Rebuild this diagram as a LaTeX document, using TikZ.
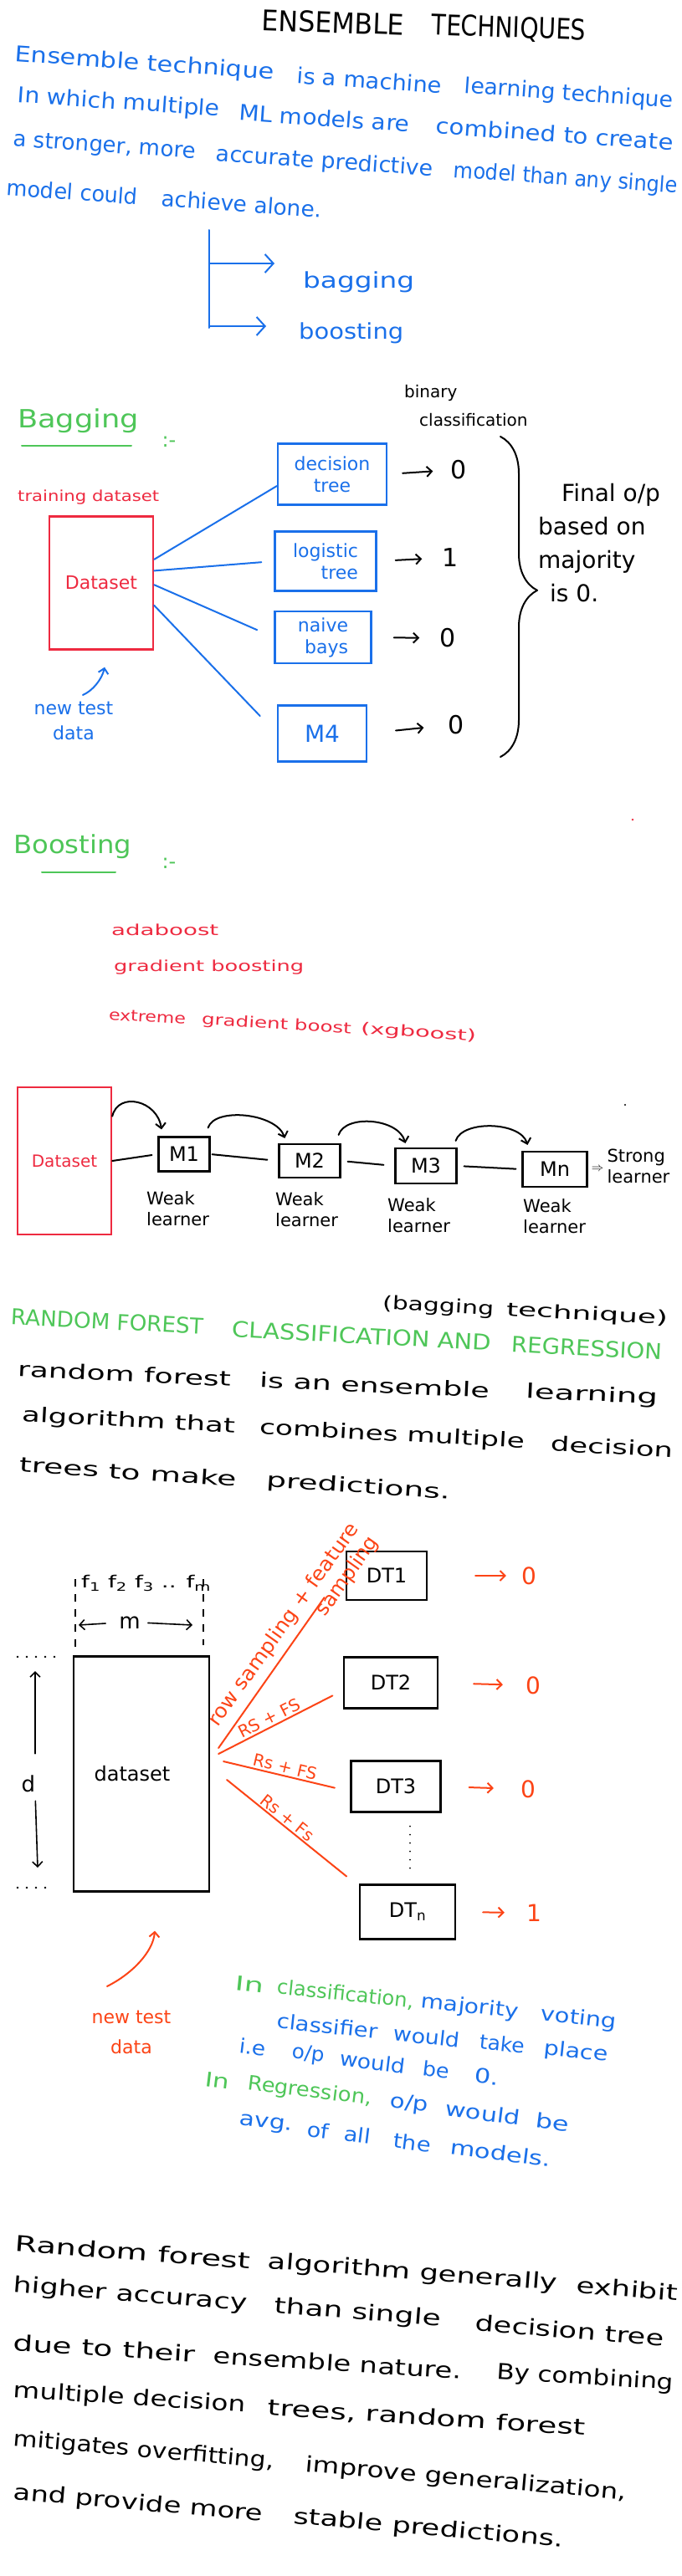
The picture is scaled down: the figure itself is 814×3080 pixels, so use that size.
\documentclass[tikz,border=0pt]{standalone}
\usepackage{fontspec}
\setmainfont{DejaVu Sans}
\usepackage{graphicx}
\usetikzlibrary{arrows.meta, positioning, decorations.pathreplacing}

\definecolor{penblue}{RGB}{26,112,234}
\definecolor{pengreen}{RGB}{78,198,88}
\definecolor{penred}{RGB}{238,42,64}
\definecolor{penorange}{RGB}{252,68,22}

% stretch one handwritten word group to the width it has on the page
\newcommand{\fitline}[2]{\resizebox{#1}{\height}{#2}}

\begin{document}
\begin{tikzpicture}[x=1pt, y=-1pt]
    \tikzstyle{hand} = [anchor=west, inner sep=0pt]
    \tikzstyle{pen} = [line width=2pt, line cap=round, line join=round]
    \tikzstyle{bigbarb} = [-{Straight Barb[length=10pt, width=22pt]}]
    \tikzstyle{barb} = [-{Straight Barb[length=6pt, width=12pt]}]
    \tikzstyle{bluebox} = [rectangle, draw=penblue, line width=2.4pt, inner sep=0pt, text=penblue, align=center, font=\fontsize{22}{26}\selectfont]
    \tikzstyle{redbox} = [rectangle, draw=penred, line width=2.4pt, inner sep=0pt, text=penred]
    \tikzstyle{blackbox} = [rectangle, draw, line width=2.2pt, inner sep=0pt, font=\fontsize{24}{28}\selectfont]
    \tikzstyle{intro} = [hand, text=penblue, font=\fontsize{26}{30}\selectfont, rotate=-4]
    \tikzstyle{heading} = [hand, text=pengreen, font=\fontsize{30}{34}\selectfont]
    \tikzstyle{algo} = [hand, text=penred, font=\fontsize{18}{22}\selectfont]
    \tikzstyle{weak} = [anchor=north west, align=left, inner sep=0pt, font=\fontsize{21}{25}\selectfont]
    \tikzstyle{rfpara} = [hand, font=\fontsize{24}{28}\selectfont]
    \tikzstyle{note} = [hand, text=penblue, font=\fontsize{24}{28}\selectfont, rotate=-6]
    \tikzstyle{notesteep} = [note, rotate=-1]
    \tikzstyle{closing} = [hand, font=\fontsize{26}{30}\selectfont]
    \tikzstyle{digit} = [inner sep=0pt, font=\fontsize{30}{34}\selectfont]
    \tikzstyle{rsfs} = [sloped, above, inner sep=2pt, text=penorange, font=\fontsize{20}{24}\selectfont]
    \tikzstyle{rowdots} = [line width=2.6pt, line cap=round, dash pattern=on 0pt off 11pt]
    \tikzstyle{featguide} = [line width=1.5pt, dash pattern=on 9pt off 9pt]

    \fill[white] (0,0) rectangle (814,3080);
    \useasboundingbox (0,0) rectangle (814,3080);

    % title and definition
    \node[hand, font=\fontsize{34}{38}\selectfont, rotate=-2] (title1) at (313,24) {\fitline{170pt}{ENSEMBLE}};
    \node[hand, font=\fontsize{34}{38}\selectfont, rotate=-2] (title2) at (516,31) {\fitline{184pt}{TECHNIQUES}};

    \node[intro] (intro1a) at (18,66) {\fitline{310pt}{Ensemble technique}};
    \node[intro] (intro1b) at (355,90) {\fitline{173pt}{is a machine}};
    \node[intro] (intro1c) at (555,104) {\fitline{250pt}{learning technique}};
    \node[intro] (intro2a) at (21,115) {\fitline{242pt}{In which multiple}};
    \node[intro] (intro2b) at (286,134) {\fitline{204pt}{ML models are}};
    \node[intro] (intro2c) at (521,150) {\fitline{284pt}{combined to create}};
    \node[intro] (intro3a) at (16,168) {\fitline{218pt}{a stronger, more}};
    \node[intro] (intro3b) at (258,185) {\fitline{260pt}{accurate predictive}};
    \node[intro] (intro3c) at (542,205) {\fitline{268pt}{model than any single}};
    \node[intro] (intro4a) at (8,224) {\fitline{157pt}{model could}};
    \node[intro] (intro4b) at (193,237) {\fitline{192pt}{achieve alone.}};

    \node[hand, text=penblue, font=\fontsize{26}{30}\selectfont] (bagging) at (362,337) {\fitline{133pt}{bagging}};
    \node[hand, text=penblue, font=\fontsize{26}{30}\selectfont] (boosting) at (357,398) {\fitline{125pt}{boosting}};
    \coordinate (splittop) at (250,275);
    \coordinate (splitbot) at (250,392);
    \coordinate (bagarrow) at (250,315);
    \coordinate (boostarrow) at (250,390);
    \draw[pen, penblue] (splittop) -- (splitbot);
    \draw[pen, penblue, bigbarb, shorten >=34pt] (bagarrow) -- ([yshift=22pt]bagging.west);
    \draw[pen, penblue, bigbarb, shorten >=39pt] (boostarrow) -- ([yshift=8pt]boosting.west);

    % bagging
    \node[heading] (baghead) at (21,503) {\fitline{145pt}{Bagging}};
    \node[inner sep=0pt, text=pengreen, font=\fontsize{24}{28}\selectfont] (bagcolon) at (202,528) {:-};
    \draw[pen, pengreen] (26,533) -- (157,533);

    \node[algo] (trainset) at (21,595) {\fitline{169pt}{training dataset}};
    \node[redbox, minimum width=124pt, minimum height=159pt, font=\fontsize{22}{26}\selectfont] (dset) at (121,697) {Dataset};
    \node[inner sep=0pt, align=center, text=penblue, font=\fontsize{22}{30}\selectfont] (newdata) at (88,862) {new test\\data};
    \draw[pen, penblue, barb] ([xshift=11pt,yshift=8pt]newdata.north) .. controls +(12,-5) and +(-3,14) .. ([xshift=4pt,yshift=-20pt]dset.south);

    \node[bluebox, minimum width=130pt, minimum height=73pt] (dtree) at (397,567) {decision\\tree};
    \node[bluebox, minimum width=121pt, minimum height=71pt, align=right] (logtree) at (389,671) {logistic\\tree};
    \node[bluebox, minimum width=115pt, minimum height=62pt, align=right] (nbays) at (386,762) {naive\\bays};
    \node[bluebox, minimum width=106pt, minimum height=67pt, font=\fontsize{28}{32}\selectfont] (mfour) at (385,877) {M4};

    \draw[pen, penblue] (dset.24) -- (dtree.192);
    \draw[pen, penblue, shorten >=15pt] (dset.13) -- (logtree.west);
    \draw[pen, penblue, shorten >=22pt] (dset.-2) -- (nbays.west);
    \draw[pen, penblue, shorten >=29pt] (dset.-23) -- (mfour.west);

    \node[digit] (out1) at (548,562) {0};
    \node[digit] (out2) at (538,667) {1};
    \node[digit] (out3) at (535,763) {0};
    \node[digit] (out4) at (545,867) {0};
    \draw[pen, barb, shorten <=18pt, shorten >=21pt] (dtree.east) -- (out1.west);
    \draw[pen, barb, shorten <=22pt, shorten >=24pt] (logtree.east) -- (out2.west);
    \draw[pen, barb, shorten <=26pt, shorten >=24pt] (nbays.east) -- (out3.west);
    \draw[pen, barb, shorten <=34pt, shorten >=29pt] (mfour.east) -- (out4.west);

    \node[anchor=north west, align=left, inner sep=0pt, font=\fontsize{20}{34}\selectfont] (binary) at (483,460) {binary\\\hspace*{0.9em}classification};
    \coordinate (bracetop) at (598,522);
    \coordinate (bracebot) at (598,905);
    \draw[pen, decorate, decoration={brace, amplitude=44pt, aspect=0.48}] (bracetop) -- (bracebot);
    \node[anchor=north west, align=left, inner sep=0pt, font=\fontsize{28}{40}\selectfont] (finalop) at (643,578) {\hspace*{1em}Final o/p\\based on\\majority\\\hspace*{0.5em}is 0.};

    % boosting
    \node[heading] (boosthead) at (16,1012) {\fitline{141pt}{Boosting}};
    \node[inner sep=0pt, text=pengreen, font=\fontsize{24}{28}\selectfont] (boostcolon) at (202,1032) {:-};
    \draw[pen, pengreen] (50,1043) -- (138,1043);
    \fill[penred] (756,980) circle (1.3pt);

    \node[algo] (adaboost) at (133,1112) {\fitline{128pt}{adaboost}};
    \node[algo] (gradboost) at (136,1157) {\fitline{227pt}{gradient boosting}};
    \node[algo, rotate=-3.5] (xgboost1) at (130,1213) {\fitline{92pt}{extreme}};
    \node[algo, rotate=-3.5] (xgboost2) at (241,1220) {\fitline{179pt}{gradient boost}};
    \node[algo, rotate=-3.5] (xgboost3) at (431,1231) {\fitline{138pt}{(xgboost)}};

    \node[redbox, minimum width=112pt, minimum height=176pt, font=\fontsize{20}{24}\selectfont] (dset2) at (77,1388) {Dataset};
    \node[blackbox, minimum width=61pt, minimum height=41pt] (m1) at (220,1380) {M1};
    \node[blackbox, minimum width=73pt, minimum height=40pt] (m2) at (370,1388) {M2};
    \node[blackbox, minimum width=73pt, minimum height=42pt] (m3) at (509,1394) {M3};
    \node[blackbox, minimum width=77pt, minimum height=42pt] (mn) at (663,1398) {Mn};

    \draw[pen, shorten >=7pt] (dset2.east) -- (m1.west);
    \draw[pen, shorten <=2pt, shorten >=13pt] (m1.east) -- (m2.west);
    \draw[pen, shorten <=8pt, shorten >=13pt] (m2.east) -- (m3.west);
    \draw[pen, shorten <=8pt, shorten >=7pt] (m3.east) -- (mn.west);

    \draw[pen, barb] (dset2.43) .. controls +(7,-30) and +(-5,-35) .. ([xshift=-27pt,yshift=8pt]m1.north);
    \draw[pen, barb] ([xshift=-3pt,yshift=10pt]m1.north east) .. controls +(8,-25) and +(-10,-30) .. ([xshift=8pt,yshift=6pt]m2.north west);
    \draw[pen, barb] ([xshift=-3pt,yshift=10pt]m2.north east) .. controls +(8,-25) and +(-8,-30) .. ([xshift=13pt,yshift=5pt]m3.north west);
    \draw[pen, barb] ([xshift=-2pt,yshift=8pt]m3.north east) .. controls +(8,-25) and +(-8,-28) .. ([xshift=7pt,yshift=7pt]mn.north west);

    \node[weak] (weak1) at (175,1424) {Weak\\learner};
    \node[weak] (weak2) at (329,1425) {Weak\\learner};
    \node[weak] (weak3) at (463,1432) {Weak\\learner};
    \node[weak] (weak4) at (625,1433) {Weak\\learner};
    \node[inner sep=0pt, font=\fontsize{14}{16}\selectfont, right=4pt of mn] (implies) {$\Rightarrow$};
    \node[weak, anchor=west, right=4pt of implies, yshift=4pt] (strong) {Strong\\learner};
    \fill (747,1321) circle (1.1pt);

    % random forest
    \node[hand, text=pengreen, font=\fontsize{26}{30}\selectfont, rotate=-3] (rfhead1) at (13,1574) {\fitline{230pt}{RANDOM FOREST}};
    \node[hand, text=pengreen, font=\fontsize{26}{30}\selectfont, rotate=-3] (rfhead2) at (277,1589) {\fitline{310pt}{CLASSIFICATION AND}};
    \node[hand, text=pengreen, font=\fontsize{26}{30}\selectfont, rotate=-3] (rfhead3) at (611,1607) {\fitline{180pt}{REGRESSION}};
    \node[hand, font=\fontsize{22}{26}\selectfont, rotate=-3] (bagtech1) at (457,1559) {\fitline{133pt}{(bagging}};
    \node[hand, font=\fontsize{22}{26}\selectfont, rotate=-3] (bagtech2) at (605,1567) {\fitline{193pt}{technique)}};

    \node[rfpara, rotate=-2.6] (rf1a) at (21,1637) {\fitline{255pt}{random forest}};
    \node[rfpara, rotate=-2.6] (rf1b) at (310,1650) {\fitline{275pt}{is an ensemble}};
    \node[rfpara, rotate=-2.6] (rf1c) at (628,1665) {\fitline{158pt}{learning}};
    \node[rfpara, rotate=-3] (rf2a) at (26,1693) {\fitline{255pt}{algorithm that}};
    \node[rfpara, rotate=-3] (rf2b) at (310,1708) {\fitline{317pt}{combines multiple}};
    \node[rfpara, rotate=-3] (rf2c) at (658,1726) {\fitline{146pt}{decision}};
    \node[rfpara, rotate=-3.8] (rf3a) at (23,1751) {\fitline{260pt}{trees to make}};
    \node[rfpara, rotate=-3.8] (rf3b) at (318,1771) {\fitline{220pt}{predictions.}};

    \node[hand, font=\fontsize{20}{24}\selectfont] (feat) at (97,1893) {\fitline{155pt}{f\textsubscript{1} f\textsubscript{2} f\textsubscript{3} .. f\textsubscript{m}}};
    \coordinate (fl1) at (90,1888);
    \coordinate (fl2) at (90,1970);
    \coordinate (fr1) at (243,1888);
    \coordinate (fr2) at (243,1967);
    \draw[featguide] (fl1) -- (fl2);
    \draw[featguide] (fr1) -- (fr2);
    \node[inner sep=0pt, font=\fontsize{26}{30}\selectfont] (mwidth) at (155,1940) {m};
    \coordinate (mleft) at (94,1943);
    \coordinate (mright) at (230,1943);
    \draw[pen, line width=1.6pt, barb, shorten <=16pt] (mwidth.west) -- (mleft);
    \draw[pen, line width=1.6pt, barb, shorten <=9pt] (mwidth.east) -- (mright);

    \coordinate (dots1a) at (21,1981);
    \coordinate (dots1b) at (70,1981);
    \coordinate (dots2a) at (21,2257);
    \coordinate (dots2b) at (65,2257);
    \draw[rowdots] (dots1a) -- (dots1b);
    \draw[rowdots] (dots2a) -- (dots2b);

    \node[blackbox, minimum width=162pt, minimum height=281pt] (dset3) at (169,2121) {\hspace*{-22pt}dataset};
    \node[inner sep=0pt, font=\fontsize{26}{30}\selectfont] (ddepth) at (34,2133) {d};
    \coordinate (dtop) at (42,1998);
    \coordinate (dbot) at (45,2233);
    \draw[pen, line width=1.6pt, barb, shorten <=26pt] ([xshift=8pt]ddepth.north) -- (dtop);
    \draw[pen, line width=1.6pt, barb, shorten <=10pt] ([xshift=8pt]ddepth.south) -- (dbot);

    \node[blackbox, minimum width=96pt, minimum height=58pt] (dt1) at (462,1884) {DT1};
    \node[blackbox, minimum width=112pt, minimum height=61pt] (dt2) at (467,2012) {DT2};
    \node[blackbox, minimum width=107pt, minimum height=61pt] (dt3) at (473,2136) {DT3};
    \node[blackbox, minimum width=114pt, minimum height=65pt] (dtn) at (487,2286) {DT\textsubscript{n}};
    \draw[rowdots, line width=2.2pt, dash pattern=on 0pt off 10pt, shorten <=16pt, shorten >=10pt] ([xshift=17pt]dt3.south) -- ([xshift=3pt]dtn.north);

    \draw[pen, penorange, shorten >=44pt] ([xshift=10pt,yshift=31pt]dset3.east) -- ([yshift=10pt]dt1.west);
    \node[rotate=54.5, align=right, inner sep=0pt, text=penorange, font=\fontsize{24}{28}\selectfont] (rowfeat) at (351,1951) {\fitline{292pt}{row sampling + feature}\\sampling};
    \draw[pen, penorange, shorten >=14pt] ([xshift=10pt,yshift=24pt]dset3.east) -- ([yshift=-9pt]dt2.west)
        node[rsfs, pos=0.44] {RS + FS};
    \draw[pen, penorange, shorten >=19pt] ([xshift=16pt,yshift=15pt]dset3.east) -- ([yshift=-6pt]dt3.west)
        node[rsfs, pos=0.47] {Rs + FS};
    \draw[pen, penorange, shorten >=19pt] ([xshift=20pt,yshift=-7pt]dset3.east) -- ([yshift=-3pt]dtn.north west)
        node[rsfs, pos=0.42] {Rs + Fs};

    \node[digit, text=penorange, font=\fontsize{28}{32}\selectfont] (ro1) at (632,1884) {0};
    \node[digit, text=penorange, font=\fontsize{28}{32}\selectfont] (ro2) at (637,2015) {0};
    \node[digit, text=penorange, font=\fontsize{28}{32}\selectfont] (ro3) at (631,2139) {0};
    \node[digit, text=penorange, font=\fontsize{28}{32}\selectfont] (ro4) at (638,2287) {1};
    \draw[pen, penorange, barb, shorten <=57pt, shorten >=18pt] (dt1.east) -- (ro1.west);
    \draw[pen, penorange, barb, shorten <=42pt, shorten >=27pt] (dt2.east) -- (ro2.west);
    \draw[pen, penorange, barb, shorten <=33pt, shorten >=32pt] (dt3.east) -- (ro3.west);
    \draw[pen, penorange, barb, shorten <=32pt, shorten >=26pt] (dtn.east) -- (ro4.west);

    \node[inner sep=0pt, align=center, text=penorange, font=\fontsize{22}{36}\selectfont] (newtest) at (157,2430) {new test\\data};
    \draw[pen, penorange, barb] ([xshift=-29pt,yshift=29pt]newtest.north) .. controls +(30,-15) and +(-2,25) .. ([xshift=16pt,yshift=-46pt]dset3.south);

    % classification and regression notes, word by word
    \node[note, text=pengreen] (cls1) at (281,2371) {\fitline{34pt}{In}};
    \node[note, text=pengreen] (cls2) at (331,2376) {\fitline{164pt}{classification,}};
    \node[note] (cls3) at (503,2394) {\fitline{117pt}{majority}};
    \node[note] (cls4) at (646,2409) {\fitline{91pt}{voting}};
    \node[note] (cls5) at (331,2416) {\fitline{121pt}{classifier}};
    \node[note] (cls6) at (470,2431) {\fitline{80pt}{would}};
    \node[note] (cls7) at (573,2441) {\fitline{54pt}{take}};
    \node[note] (cls8) at (650,2450) {\fitline{77pt}{place}};
    \node[notesteep] (cls9) at (286,2446) {\fitline{32pt}{i.e}};
    \node[notesteep] (cls10) at (349,2454) {\fitline{39pt}{o/p}};
    \node[notesteep] (cls11) at (406,2461) {\fitline{79pt}{would}};
    \node[notesteep] (cls12) at (505,2473) {\fitline{32pt}{be}};
    \node[notesteep] (cls13) at (567,2481) {\fitline{29pt}{0.}};
    \node[notesteep, text=pengreen] (reg1) at (245,2486) {\fitline{29pt}{In}};
    \node[notesteep, text=pengreen] (reg2) at (296,2492) {\fitline{149pt}{Regression,}};
    \node[notesteep] (reg3) at (466,2513) {\fitline{46pt}{o/p}};
    \node[notesteep] (reg4) at (532,2521) {\fitline{90pt}{would}};
    \node[notesteep] (reg5) at (640,2535) {\fitline{40pt}{be}};
    \node[notesteep] (reg6) at (286,2536) {\fitline{64pt}{avg.}};
    \node[notesteep] (reg7) at (367,2546) {\fitline{26pt}{of}};
    \node[notesteep] (reg8) at (411,2551) {\fitline{32pt}{all}};
    \node[notesteep] (reg9) at (470,2559) {\fitline{45pt}{the}};
    \node[notesteep] (reg10) at (538,2567) {\fitline{121pt}{models.}};

    % closing remarks
    \node[closing, rotate=-4.3] (close1a) at (18,2682) {\fitline{282pt}{Random forest}};
    \node[closing, rotate=-4.3] (close1b) at (320,2705) {\fitline{347pt}{algorithm generally}};
    \node[closing, rotate=-4.3] (close1c) at (689,2732) {\fitline{121pt}{exhibit}};
    \node[closing, rotate=-4.6] (close2a) at (16,2733) {\fitline{280pt}{higher accuracy}};
    \node[closing, rotate=-4.6] (close2b) at (328,2758) {\fitline{199pt}{than single}};
    \node[closing, rotate=-4.6] (close2c) at (568,2777) {\fitline{226pt}{decision tree}};
    \node[closing, rotate=-3.6] (close3a) at (16,2801) {\fitline{218pt}{due to their}};
    \node[closing, rotate=-3.6] (close3b) at (255,2816) {\fitline{297pt}{ensemble nature.}};
    \node[closing, rotate=-3.6] (close3c) at (594,2837) {\fitline{211pt}{By combining}};
    \node[closing, rotate=-3.7] (close4a) at (16,2859) {\fitline{278pt}{multiple decision}};
    \node[closing, rotate=-3.7] (close4b) at (320,2879) {\fitline{380pt}{trees, random forest}};
    \node[closing, rotate=-5] (close5a) at (16,2917) {\fitline{312pt}{mitigates overfitting,}};
    \node[closing, rotate=-5] (close5b) at (365,2948) {\fitline{385pt}{improve generalization,}};
    \node[closing, rotate=-5] (close6a) at (16,2981) {\fitline{299pt}{and provide more}};
    \node[closing, rotate=-5] (close6b) at (351,3010) {\fitline{323pt}{stable predictions.}};
\end{tikzpicture}
\end{document}
